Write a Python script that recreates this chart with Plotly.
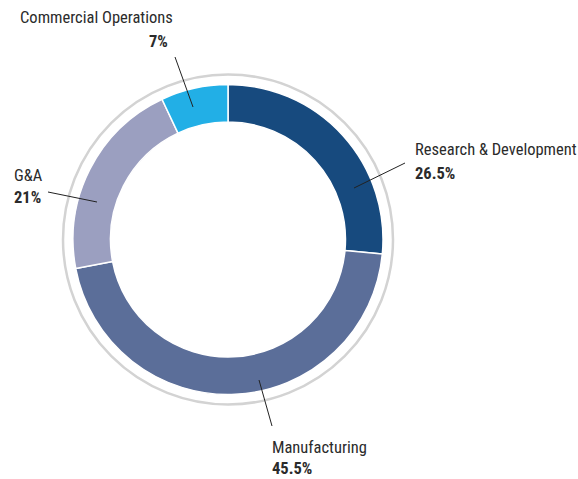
import plotly.graph_objects as go

# ---- data ----
categories = ["Research & Development", "Manufacturing", "G&A", "Commercial Operations"]
values = [26.5, 45.5, 21, 7]
value_labels = ["26.5%", "45.5%", "21%", "7%"]
colors = ["#174a7e", "#5b6e99", "#9b9fc0", "#22afe6"]

W, H = 578, 479
CX, CY, R = 228, 239.5, 155
RING_R = 165


def px(x):
    return x / W


def py(y):
    return 1 - y / H


fig = go.Figure()
fig.add_trace(go.Pie(
    labels=categories,
    values=values,
    sort=False,
    direction="clockwise",
    rotation=0,
    hole=0.758,
    marker=dict(colors=colors, line=dict(color="white", width=1.5)),
    textinfo="none",
    hoverinfo="label+percent",
    showlegend=False,
    domain=dict(x=[px(CX - R), px(CX + R)], y=[py(CY + R), py(CY - R)]),
))

shapes = [dict(type="circle", xref="paper", yref="paper",
               x0=px(CX - RING_R), x1=px(CX + RING_R),
               y0=py(CY + RING_R), y1=py(CY - RING_R),
               line=dict(color="#d3d3d3", width=2.5), layer="below")]

# label layout: (name x, name y, value y, anchor, leader from, leader to)
label_layout = [
    (413, 150, 173, "left", (405, 163), (354, 188)),
    (270, 447, 468, "left", (272, 426), (259, 380)),
    (12, 176, 197, "left", (48, 192), (97, 202)),
    (175, 17, 42, "right", (175, 57), (193, 107)),
]

font_family = "Roboto Condensed, Lato, sans-serif"
FS = 16.5
annotations = []
for name, vlab, (lx, ny, vy, anchor, p0, p1) in zip(categories, value_labels, label_layout):
    vx = lx if anchor == "left" else lx - 5
    annotations.append(dict(x=px(lx), y=py(ny), xref="paper", yref="paper", text=name,
                            showarrow=False, xanchor=anchor, yanchor="middle",
                            font=dict(family=font_family, size=FS, color="#2b2b2b")))
    annotations.append(dict(x=px(vx), y=py(vy), xref="paper", yref="paper", text="<b>" + vlab + "</b>",
                            showarrow=False, xanchor=anchor, yanchor="middle",
                            font=dict(family=font_family, size=FS, color="#2b2b2b")))
    shapes.append(dict(type="line", xref="paper", yref="paper",
                       x0=px(p0[0]), y0=py(p0[1]), x1=px(p1[0]), y1=py(p1[1]),
                       line=dict(color="#222222", width=1)))

fig.update_layout(
    width=W, height=H,
    margin=dict(l=0, r=0, t=0, b=0),
    paper_bgcolor="white", plot_bgcolor="white",
    shapes=shapes, annotations=annotations,
)

fig.write_html("out.html", config={"displayModeBar": False},
               post_script="document.body.style.margin='0';document.body.style.overflow='hidden';")
